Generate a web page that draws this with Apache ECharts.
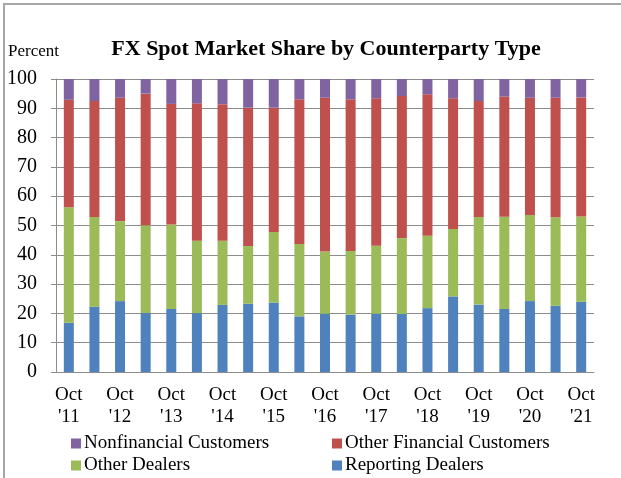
<!DOCTYPE html>
<html>
<head>
<meta charset="utf-8">
<script src="https://cdn.jsdelivr.net/npm/echarts@6/dist/echarts.min.js"></script>
<style>
  html, body { margin: 0; padding: 0; overflow: hidden; background: #fff; }
  #frame { position: absolute; left: 3px; top: 3px; width: 700px; height: 600px; border: 2px solid #a6a6a6; }
  #chart { position: absolute; left: 0; top: 0; width: 621px; height: 478px; }
</style>
</head>
<body>
<div id="frame"></div>
<div id="chart"></div>
<script>
  // semiannual survey dates, Oct '11 .. Oct '21
  const categories = [
    "Oct\n'11", "Apr\n'12", "Oct\n'12", "Apr\n'13", "Oct\n'13", "Apr\n'14", "Oct\n'14",
    "Apr\n'15", "Oct\n'15", "Apr\n'16", "Oct\n'16", "Apr\n'17", "Oct\n'17", "Apr\n'18",
    "Oct\n'18", "Apr\n'19", "Oct\n'19", "Apr\n'20", "Oct\n'20", "Apr\n'21", "Oct\n'21"
  ];
  const reportingDealers = [16.8, 22.3, 24.2, 20.1, 21.5, 20.1, 22.9, 23.3, 23.7, 19.0, 19.9, 19.6, 19.9, 19.8, 21.8, 25.8, 23.0, 21.5, 24.2, 22.6, 24.0];
  const otherDealers = [39.4, 30.6, 27.3, 30.0, 28.8, 24.7, 21.9, 19.7, 24.1, 24.7, 21.2, 21.7, 23.2, 25.9, 24.7, 23.0, 29.9, 31.5, 29.4, 30.2, 29.1];
  const otherFinancial = [36.7, 39.6, 42.1, 44.9, 41.2, 46.9, 46.6, 47.2, 42.4, 49.4, 52.5, 51.8, 50.3, 48.5, 48.3, 44.6, 39.6, 41.0, 40.0, 40.8, 40.6];
  const nonfinancial = [7.1, 7.5, 6.4, 5.0, 8.5, 8.3, 8.6, 9.8, 9.8, 6.9, 6.4, 6.9, 6.6, 5.8, 5.2, 6.6, 7.5, 6.0, 6.4, 6.4, 6.3];

  const font = '"Liberation Serif", "Times New Roman", serif';
  const gridColor = '#8c8c8c';

  const chart = echarts.init(document.getElementById('chart'));

  function legendItem(name, left, top){
    return {
      data: [name],
      left: left,
      top: top,
      icon: 'rect',
      itemWidth: 10,
      itemHeight: 10,
      itemGap: 0,
      padding: 0,
      textStyle: {fontFamily: font, fontSize: 19, color: '#000', padding: [0, 0, 0, -2]},
      selectedMode: false
    };
  }

  function barSeries(name, color, data){
    return {
      name: name,
      type: 'bar',
      stack: 'share',
      barWidth: 10,
      itemStyle: {color: color},
      emphasis: {disabled: true},
      data: data
    };
  }

  chart.setOption({
    animation: false,
    title: {
      text: 'FX Spot Market Share by Counterparty Type',
      left: 321,
      textAlign: 'center',
      top: 33,
      textStyle: {fontFamily: font, fontSize: 22, fontWeight: 'bold', color: '#000'}
    },
    graphic: [{
      type: 'text',
      left: 8,
      top: 43,
      style: {text: 'Percent', font: '17px ' + font, fill: '#000'}
    }],
    grid: {left: 56, right: 27, top: 79, bottom: 106},
    legend: [
      legendItem('Nonfinancial Customers', 71, 434),
      legendItem('Other Financial Customers', 332, 434),
      legendItem('Other Dealers', 71, 456),
      legendItem('Reporting Dealers', 332, 456)
    ],
    xAxis: {
      type: 'category',
      data: categories,
      axisLine: {lineStyle: {color: gridColor}},
      axisTick: {interval: 0, length: 5, lineStyle: {color: gridColor}},
      axisLabel: {
        interval: 1,
        margin: 12,
        fontFamily: font,
        fontSize: 19,
        lineHeight: 22,
        color: '#000'
      }
    },
    yAxis: {
      type: 'value',
      min: 0,
      max: 100,
      interval: 10,
      axisLine: {show: true, lineStyle: {color: gridColor}},
      axisTick: {show: true, length: 5, lineStyle: {color: gridColor}},
      splitLine: {lineStyle: {color: gridColor}},
      axisLabel: {margin: 19, fontFamily: font, fontSize: 20, color: '#000'}
    },
    series: [
      barSeries('Reporting Dealers', '#4f81bd', reportingDealers),
      barSeries('Other Dealers', '#9bbb59', otherDealers),
      barSeries('Other Financial Customers', '#c0504d', otherFinancial),
      barSeries('Nonfinancial Customers', '#8064a2', nonfinancial)
    ]
  });
</script>
</body>
</html>
